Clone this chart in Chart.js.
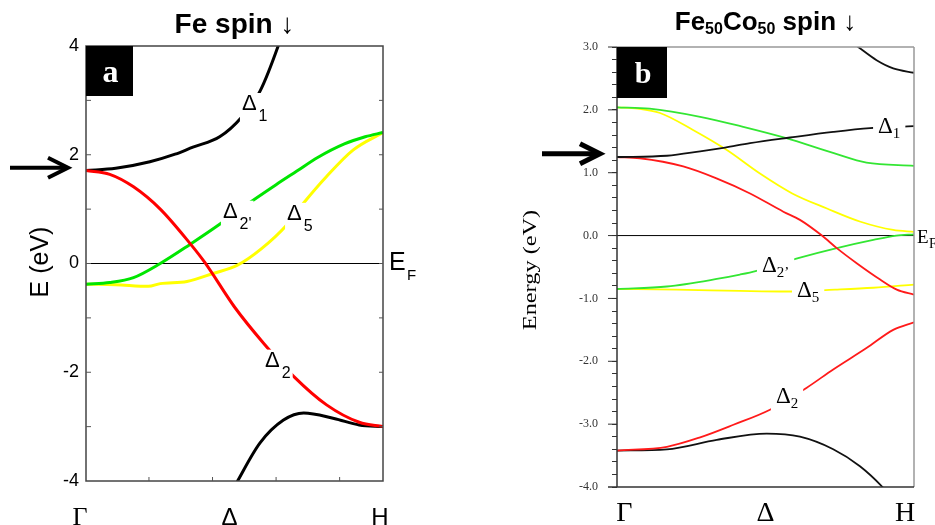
<!DOCTYPE html>
<html>
<head>
<meta charset="utf-8">
<script src="https://cdn.jsdelivr.net/npm/chart.js@4.4.0/dist/chart.umd.min.js"></script>
<style>
  body { margin: 0; background: #fff; width: 935px; height: 525px; overflow: hidden; position: relative; }
  canvas { position: absolute; top: 0; }
</style>
</head>
<body>
<canvas id="feChart" width="467" height="525" style="left:0"></canvas>
<canvas id="fecoChart" width="468" height="525" style="left:467px"></canvas>
<script>
// k runs from Γ (0) to H (1), energies in eV relative to E_F

// --- Fe spin down ---
const feD1K  = [0, 0.1, 0.215, 0.3, 0.36, 0.45, 0.524, 0.586, 0.647, 0.7];
const feD1E  = [1.71, 1.75, 1.87, 2.01, 2.14, 2.33, 2.69, 3.17, 4.0, 4.9];
const feD2K  = [0, 0.08, 0.16, 0.25, 0.35, 0.4, 0.5, 0.6, 0.7, 0.81, 0.92, 1];
const feD2E  = [1.71, 1.64, 1.41, 1.0, 0.37, 0.02, -0.8, -1.48, -2.08, -2.6, -2.92, -3.0];
const feD2pK = [0, 0.08, 0.16, 0.25, 0.35, 0.45, 0.53, 0.64, 0.71, 0.78, 0.87, 0.94, 1];
const feD2pE = [-0.38, -0.35, -0.26, 0.0, 0.35, 0.72, 1.04, 1.45, 1.7, 1.95, 2.2, 2.33, 2.41];
const feD5K  = [0, 0.1, 0.21, 0.25, 0.34, 0.43, 0.51, 0.59, 0.676, 0.737, 0.81, 0.9, 1];
const feD5E  = [-0.38, -0.39, -0.42, -0.37, -0.33, -0.18, -0.03, 0.27, 0.71, 1.14, 1.6, 2.09, 2.41];
const feLowK = [0.5, 0.586, 0.665, 0.733, 0.835, 0.92, 1];
const feLowE = [-4.1, -3.3, -2.88, -2.75, -2.85, -2.97, -3.0];
const feYTicks = [-4, -2, 0, 2, 4];

// --- Fe50Co50 spin down ---
const cbTopK   = [0.78, 0.812, 0.874, 0.93, 1];
const cbTopE   = [3.11, 3.0, 2.79, 2.66, 2.59];
const cbD1K    = [0, 0.168, 0.28, 0.364, 0.448, 0.583, 0.728, 0.852, 1];
const cbD1E    = [1.25, 1.27, 1.34, 1.40, 1.47, 1.56, 1.65, 1.71, 1.74];
const cbD2pUpK = [0, 0.11, 0.28, 0.425, 0.57, 0.73, 0.84, 1];
const cbD2pUpE = [2.04, 2.02, 1.89, 1.73, 1.55, 1.31, 1.16, 1.11];
const cbD5UpK  = [0, 0.07, 0.145, 0.256, 0.37, 0.48, 0.59, 0.707, 0.82, 0.93, 1];
const cbD5UpE  = [2.04, 2.02, 1.95, 1.68, 1.36, 0.99, 0.67, 0.43, 0.22, 0.09, 0.06];
const cbD2UpK  = [0, 0.077, 0.223, 0.335, 0.448, 0.56, 0.616, 0.69, 0.74, 0.807, 0.886, 0.942, 1];
const cbD2UpE  = [1.25, 1.23, 1.10, 0.91, 0.67, 0.38, 0.25, 0.0, -0.2, -0.44, -0.70, -0.86, -0.94];
const cbD2pLoK = [0, 0.168, 0.336, 0.414, 0.47, 0.61, 0.74, 0.863, 0.94, 1];
const cbD2pLoE = [-0.85, -0.81, -0.69, -0.62, -0.56, -0.36, -0.2, -0.07, 0.0, 0.02];
const cbD5LoK  = [0, 0.2, 0.414, 0.571, 0.734, 0.863, 1];
const cbD5LoE  = [-0.85, -0.86, -0.88, -0.89, -0.86, -0.83, -0.78];
const cbD2LoK  = [0, 0.168, 0.28, 0.392, 0.515, 0.639, 0.728, 0.84, 0.93, 1];
const cbD2LoE  = [-3.42, -3.36, -3.21, -3.01, -2.77, -2.42, -2.13, -1.79, -1.5, -1.38];
const cbLowK   = [0, 0.168, 0.336, 0.504, 0.616, 0.728, 0.818, 0.894, 0.93];
const cbLowE   = [-3.42, -3.40, -3.25, -3.15, -3.2, -3.40, -3.67, -4.0, -4.2];

const fermiK = [0, 1];
const fermiE = [0, 0];

// symmetry-point labels under the k axis
const kPointNames = ['Γ', 'Δ', 'H'];

// band labels (anchor in k / E of the left edge and baseline of the Δ)
const feTagSub = ['1', "2'", '5', '2'];
const feTagK   = [0.525, 0.461, 0.677, 0.603];
const feTagE   = [2.82, 0.84, 0.80, -1.90];
const cbTagSub = ['1', '2\u2019', '5', '2'];
const cbTagK   = [0.879, 0.488, 0.606, 0.535];
const cbTagE   = [1.63, -0.58, -0.97, -2.66];

const SANS = '"Liberation Sans", Arial, sans-serif';
const SERIF = '"Liberation Serif", "Times New Roman", serif';

function pts(k, e) {
  return k.map((x, i) => ({ x: x, y: e[i] }));
}

function band(k, e, color, w) {
  return {
    data: pts(k, e),
    borderColor: color,
    borderWidth: w,
    pointRadius: 0,
    fill: false,
    cubicInterpolationMode: 'monotone'
  };
}

function deltaTag(ctx, x, y, sub, o) {
  ctx.font = o.size + 'px ' + o.family;
  const w1 = ctx.measureText('Δ').width;
  ctx.font = o.subSize + 'px ' + o.family;
  const w2 = ctx.measureText(sub).width;
  ctx.fillStyle = '#fff';
  ctx.fillRect(x - o.pad, y - o.size * 0.78, w1 + o.gap + w2 + 2 * o.pad, o.size * 0.78 + o.drop + 3);
  ctx.fillStyle = '#000';
  ctx.textAlign = 'left';
  ctx.textBaseline = 'alphabetic';
  ctx.font = o.size + 'px ' + o.family;
  ctx.fillText('Δ', x, y);
  ctx.font = o.subSize + 'px ' + o.family;
  ctx.fillText(sub, x + w1 + o.gap, y + o.drop);
}

function arrow(ctx, x0, x1, y, lw, head) {
  ctx.strokeStyle = '#000';
  ctx.lineWidth = lw;
  ctx.lineJoin = 'miter';
  ctx.beginPath();
  ctx.moveTo(x0, y);
  ctx.lineTo(x1 - 3, y);
  ctx.stroke();
  ctx.beginPath();
  ctx.moveTo(x1 - head, y - head * 0.5);
  ctx.lineTo(x1, y);
  ctx.lineTo(x1 - head, y + head * 0.5);
  ctx.stroke();
}

function panelBox(ctx, a, w, h, letter, size) {
  ctx.fillStyle = '#000';
  ctx.fillRect(a.left, a.top, w, h);
  ctx.fillStyle = '#fff';
  ctx.font = 'bold ' + size + 'px ' + SERIF;
  ctx.textAlign = 'center';
  ctx.textBaseline = 'alphabetic';
  ctx.fillText(letter, a.left + w / 2 + 1, a.top + 36);
}

// ---------- panel a ----------
const feDecor = {
  id: 'feDecor',
  afterDatasetsDraw(chart) {
    const { ctx, chartArea: a, scales: { x, y } } = chart;
    ctx.save();

    feTagSub.forEach((s, i) => {
      deltaTag(ctx, x.getPixelForValue(feTagK[i]), y.getPixelForValue(feTagE[i]), s,
        { family: SANS, size: 22, subSize: 16, gap: 2, drop: 11, pad: 2 });
    });

    // frame + inward ticks
    ctx.strokeStyle = '#444';
    ctx.lineWidth = 1.5;
    ctx.strokeRect(a.left, a.top, a.right - a.left, a.bottom - a.top);
    ctx.lineWidth = 1;
    ctx.strokeStyle = '#555';
    ctx.beginPath();
    for (let v = -3; v <= 3; v++) {
      const py = y.getPixelForValue(v);
      ctx.moveTo(a.left, py); ctx.lineTo(a.left + 5, py);
      ctx.moveTo(a.right, py); ctx.lineTo(a.right - 4, py);
    }
    [0.212, 0.426, 0.64, 0.854].forEach(v => {
      const px = x.getPixelForValue(v);
      ctx.moveTo(px, a.bottom); ctx.lineTo(px, a.bottom - 4);
    });
    ctx.stroke();

    panelBox(ctx, a, 47, 50, 'a', 32);

    arrow(ctx, a.left - 76, a.left - 18, y.getPixelForValue(1.76), 4, 20);

    ctx.fillStyle = '#000';
    ctx.textAlign = 'center';
    ctx.textBaseline = 'alphabetic';
    ctx.font = 'bold 28px ' + SANS;
    ctx.fillText('Fe spin ↓', (a.left + a.right) / 2, 33);

    ctx.save();
    ctx.translate(a.left - 45, 262);
    ctx.rotate(-Math.PI / 2);
    ctx.font = '25px ' + SANS;
    ctx.textBaseline = 'middle';
    ctx.fillText('E (eV)', 0, 0);
    ctx.restore();

    ctx.textBaseline = 'alphabetic';
    ctx.font = '26px ' + SERIF;
    ctx.fillText(kPointNames[0], x.getPixelForValue(-0.02), 525);
    ctx.font = '24px ' + SANS;
    ctx.fillText(kPointNames[1], x.getPixelForValue(0.483), 525);
    ctx.fillText(kPointNames[2], x.getPixelForValue(0.99), 525);

    ctx.textAlign = 'left';
    ctx.font = '25px ' + SANS;
    ctx.fillText('E', a.right + 6, y.getPixelForValue(-0.12));
    ctx.font = '15px ' + SANS;
    ctx.fillText('F', a.right + 24, y.getPixelForValue(-0.12) + 10);
    ctx.restore();
  }
};

new Chart(document.getElementById('feChart'), {
  type: 'line',
  data: {
    datasets: [
      band(feD2K, feD2E, '#ff0000', 3),
      band(feD1K, feD1E, '#000000', 3),
      band(feD2pK, feD2pE, '#00e600', 3),
      band(feD5K, feD5E, '#ffff00', 3),
      band(feLowK, feLowE, '#000000', 3),
      band(fermiK, fermiE, '#000000', 1.2)
    ]
  },
  options: {
    responsive: false,
    animation: false,
    devicePixelRatio: 1,
    layout: { padding: { left: 36, right: 84, top: 46, bottom: 44 } },
    plugins: { legend: { display: false }, tooltip: { enabled: false } },
    scales: {
      x: { type: 'linear', min: 0, max: 1, display: false },
      y: {
        min: -4, max: 4,
        afterBuildTicks: s => { s.ticks = feYTicks.map(v => ({ value: v })); },
        ticks: { font: { family: SANS, size: 18 }, color: '#000', padding: 7 },
        grid: { display: false, drawTicks: false },
        border: { display: false },
        afterFit: s => { s.width = 50; }
      }
    }
  },
  plugins: [feDecor]
});

// ---------- panel b ----------
const cbDecor = {
  id: 'cbDecor',
  afterDatasetsDraw(chart) {
    const { ctx, chartArea: a, scales: { x, y } } = chart;
    ctx.save();

    cbTagSub.forEach((s, i) => {
      deltaTag(ctx, x.getPixelForValue(cbTagK[i]), y.getPixelForValue(cbTagE[i]), s,
        { family: SERIF, size: 23, subSize: 15, gap: 0, drop: 5, pad: 5 });
    });

    ctx.lineWidth = 1.5;
    ctx.strokeStyle = '#999';
    ctx.beginPath();
    ctx.moveTo(a.left, a.top); ctx.lineTo(a.right, a.top);
    ctx.moveTo(a.right, a.top); ctx.lineTo(a.right, a.bottom);
    ctx.stroke();
    ctx.strokeStyle = '#333';
    ctx.beginPath();
    ctx.moveTo(a.left, a.top); ctx.lineTo(a.left, a.bottom);
    ctx.moveTo(a.left - 9, a.bottom); ctx.lineTo(a.right, a.bottom);
    ctx.stroke();
    ctx.lineWidth = 1;
    ctx.beginPath();
    for (let v = -3; v <= 3; v++) {
      const py = y.getPixelForValue(v);
      ctx.moveTo(a.left - 9, py); ctx.lineTo(a.left, py);
    }
    ctx.stroke();

    panelBox(ctx, a, 50, 51, 'b', 30);

    arrow(ctx, a.left - 75, a.left - 17, y.getPixelForValue(1.30), 5, 20);

    // title with subscripts
    const parts = [['Fe', 26, 0], ['50', 16, 4], ['Co', 26, 0], ['50', 16, 4], [' spin ↓', 26, 0]];
    let total = 0;
    parts.forEach(p => { ctx.font = 'bold ' + p[1] + 'px ' + SANS; total += ctx.measureText(p[0]).width; });
    let cx = (a.left + a.right) / 2 - total / 2;
    ctx.fillStyle = '#000';
    ctx.textAlign = 'left';
    ctx.textBaseline = 'alphabetic';
    parts.forEach(p => {
      ctx.font = 'bold ' + p[1] + 'px ' + SANS;
      ctx.fillText(p[0], cx, 30 + p[2]);
      cx += ctx.measureText(p[0]).width;
    });

    ctx.save();
    ctx.translate(a.left - 86, 270);
    ctx.rotate(-Math.PI / 2);
    ctx.scale(1.35, 1);
    ctx.font = '18px ' + SERIF;
    ctx.textAlign = 'center';
    ctx.textBaseline = 'middle';
    ctx.fillText('Energy (eV)', 0, 0);
    ctx.restore();

    ctx.textAlign = 'center';
    ctx.font = '28px ' + SERIF;
    ctx.fillText(kPointNames[0], x.getPixelForValue(0.025), 521);
    ctx.fillText(kPointNames[1], x.getPixelForValue(0.5), 521);
    ctx.fillText(kPointNames[2], x.getPixelForValue(0.97), 521);

    ctx.textAlign = 'left';
    ctx.font = '19px ' + SERIF;
    ctx.fillText('E', x.getPixelForValue(1.01), y.getPixelForValue(-0.12));
    ctx.font = '14px ' + SERIF;
    ctx.fillText('F', x.getPixelForValue(1.01) + 12, y.getPixelForValue(-0.12) + 5);
    ctx.restore();
  }
};

new Chart(document.getElementById('fecoChart'), {
  type: 'line',
  data: {
    datasets: [
      band(cbTopK, cbTopE, '#111111', 1.8),
      band(cbD1K, cbD1E, '#111111', 1.8),
      band(cbD2UpK, cbD2UpE, '#ff1a1a', 1.8),
      band(cbD2pUpK, cbD2pUpE, '#33e633', 1.8),
      band(cbD5UpK, cbD5UpE, '#ffff00', 1.8),
      band(cbD2pLoK, cbD2pLoE, '#33e633', 1.8),
      band(cbD5LoK, cbD5LoE, '#ffff00', 1.8),
      band(cbD2LoK, cbD2LoE, '#ff1a1a', 1.8),
      band(cbLowK, cbLowE, '#111111', 1.8),
      band(fermiK, fermiE, '#000000', 1)
    ]
  },
  options: {
    responsive: false,
    animation: false,
    devicePixelRatio: 1,
    layout: { padding: { left: 100, right: 21, top: 47, bottom: 38 } },
    plugins: { legend: { display: false }, tooltip: { enabled: false } },
    scales: {
      x: { type: 'linear', min: 0, max: 1, display: false },
      y: {
        min: -4, max: 3,
        ticks: {
          stepSize: 0.2,
          maxTicksLimit: 40,
          autoSkip: false,
          font: { family: SERIF, size: 12 },
          color: '#333',
          padding: 14,
          callback: v => Math.abs(v - Math.round(v)) < 1e-6 ? (Math.round(v) + 0).toFixed(1) : ''
        },
        grid: { drawOnChartArea: false, drawTicks: true, tickLength: 5, color: '#333' },
        border: { display: false },
        afterFit: s => { s.width = 50; }
      }
    }
  },
  plugins: [cbDecor]
});
</script>
</body>
</html>
